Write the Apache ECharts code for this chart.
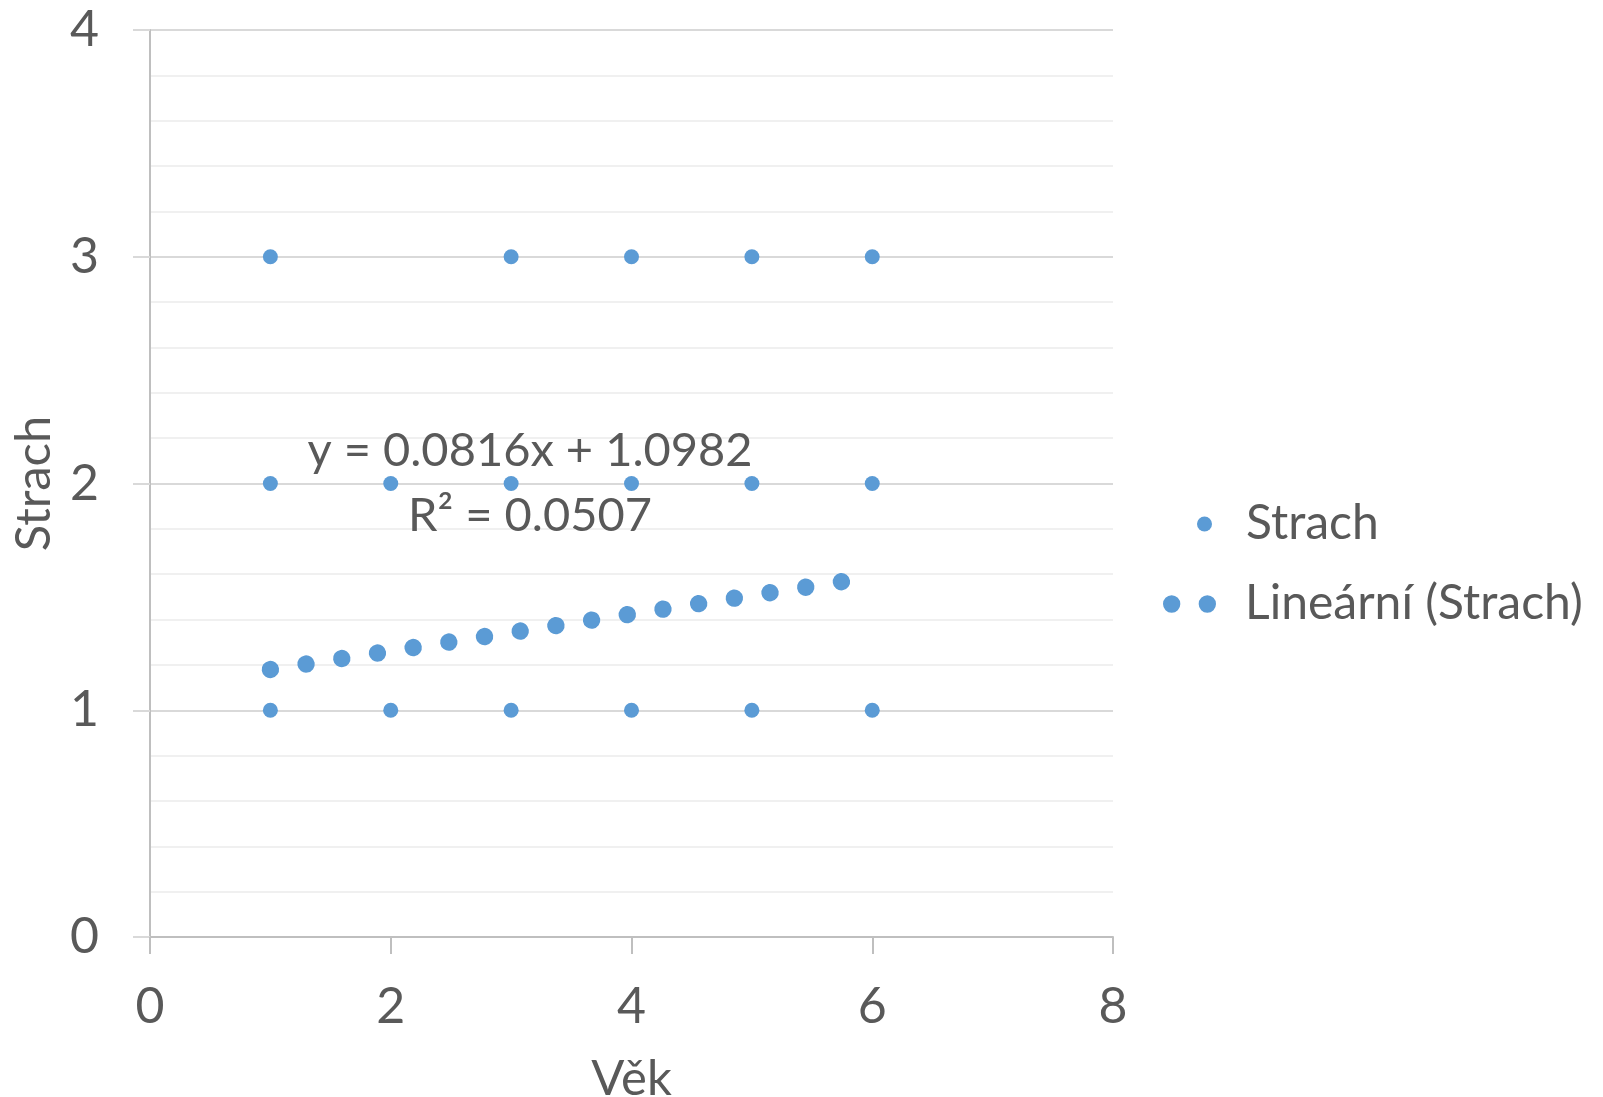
<!DOCTYPE html>
<html>
<head>
<meta charset="utf-8">
<script src="https://cdn.jsdelivr.net/npm/echarts@6/dist/echarts.min.js"></script>
<style>
html,body{margin:0;padding:0;background:#fff;}
#c{width:1603px;height:1097px;}
</style>
</head>
<body>
<div id="c"></div>
<script>
// Data
const strachX = [1, 3, 4, 5, 6, 1, 2, 3, 4, 5, 6, 1, 2, 3, 4, 5, 6];
const strachY = [3, 3, 3, 3, 3, 2, 2, 2, 2, 2, 2, 1, 1, 1, 1, 1, 1];
const trendSlope = 0.0816;
const trendIntercept = 1.0982;
const trendRange = [1, 6];
const rSquared = 0.0507;
const xTicks = [0, 2, 4, 6, 8];
const yTicks = [0, 1, 2, 3, 4];
const seriesName = 'Strach';
const trendName = 'Lineární (Strach)';
const xName = 'Věk';
const yName = 'Strach';

const FONT = 'Lato, "Open Sans", sans-serif';
const TXT = '#595959';
const BLUE = '#5B9BD5';

const scatterData = strachX.map((x, i) => [x, strachY[i]]);
const trendData = trendRange.map(x => [x, trendSlope * x + trendIntercept]);

const chart = echarts.init(document.getElementById('c'), null, {renderer: 'canvas'});
chart.setOption({
  animation: false,
  backgroundColor: '#fff',
  grid: {left: 150, right: 490, top: 30, bottom: 160, containLabel: false, outerBoundsMode: 'none'},
  xAxis: {
    type: 'value', min: xTicks[0], max: xTicks[xTicks.length - 1], interval: 2,
    name: xName, nameLocation: 'middle', nameGap: 118,
    nameTextStyle: {fontFamily: FONT, fontSize: 49, color: TXT},
    axisLine: {show: true, lineStyle: {color: '#bfbfbf', width: 2}},
    axisTick: {show: true, inside: false, length: 17, lineStyle: {color: '#bfbfbf', width: 2}},
    axisLabel: {fontFamily: FONT, fontSize: 50, color: TXT, margin: 45},
    splitLine: {show: false}
  },
  yAxis: {
    type: 'value', min: yTicks[0], max: yTicks[yTicks.length - 1], interval: 1,
    name: yName, nameLocation: 'middle', nameGap: 91, nameRotate: 90,
    nameTextStyle: {fontFamily: FONT, fontSize: 49, color: TXT},
    axisLine: {show: true, lineStyle: {color: '#bfbfbf', width: 2}},
    axisTick: {show: true, inside: false, length: 17, lineStyle: {color: '#d9d9d9', width: 2}},
    axisLabel: {fontFamily: FONT, fontSize: 50, color: TXT, margin: 51},
    splitLine: {show: true, lineStyle: {color: '#d9d9d9', width: 2}},
    minorTick: {show: false, splitNumber: 5},
    minorSplitLine: {show: true, lineStyle: {color: '#f0f0f0', width: 2}}
  },
  legend: [
    {
      data: [{name: seriesName, icon: 'circle'}],
      left: 1197, top: 496, padding: 0,
      itemWidth: 15, itemHeight: 15,
      textStyle: {fontFamily: FONT, fontSize: 48, color: TXT, lineHeight: 56, padding: [0, 0, 0, 29]}
    },
    {
      data: [{name: trendName, icon: 'path://M0,8.7A8.7,8.7,0,1,0,17.4,8.7A8.7,8.7,0,1,0,0,8.7ZM35.8,8.7A8.7,8.7,0,1,0,53.2,8.7A8.7,8.7,0,1,0,35.8,8.7Z'}],
      left: 1163, top: 576, padding: 0,
      itemWidth: 53, itemHeight: 17.4,
      textStyle: {fontFamily: FONT, fontSize: 48, color: TXT, lineHeight: 56, padding: [0, 0, 0, 24]}
    }
  ],
  graphic: [
    {type: 'text', x: 530, y: 451, z: 100, silent: true,
     style: {text: 'y = ' + trendSlope + 'x + ' + trendIntercept, font: '47px ' + FONT, fill: TXT, align: 'center', verticalAlign: 'middle'}},
    {type: 'text', x: 530, y: 516, z: 100, silent: true,
     style: {text: 'R² = ' + rSquared, font: '47px ' + FONT, fill: TXT, align: 'center', verticalAlign: 'middle'}}
  ],
  series: [
    {
      name: seriesName, type: 'scatter', data: scatterData,
      symbol: 'circle', symbolSize: 15,
      itemStyle: {color: BLUE, opacity: 1}, z: 3
    },
    {
      name: trendName, type: 'line', data: trendData,
      showSymbol: false, symbol: 'none',
      itemStyle: {color: BLUE},
      lineStyle: {color: BLUE, width: 17.4, type: [0.01, 36.1], cap: 'round'},
      z: 2
    }
  ]
});
</script>
</body>
</html>
